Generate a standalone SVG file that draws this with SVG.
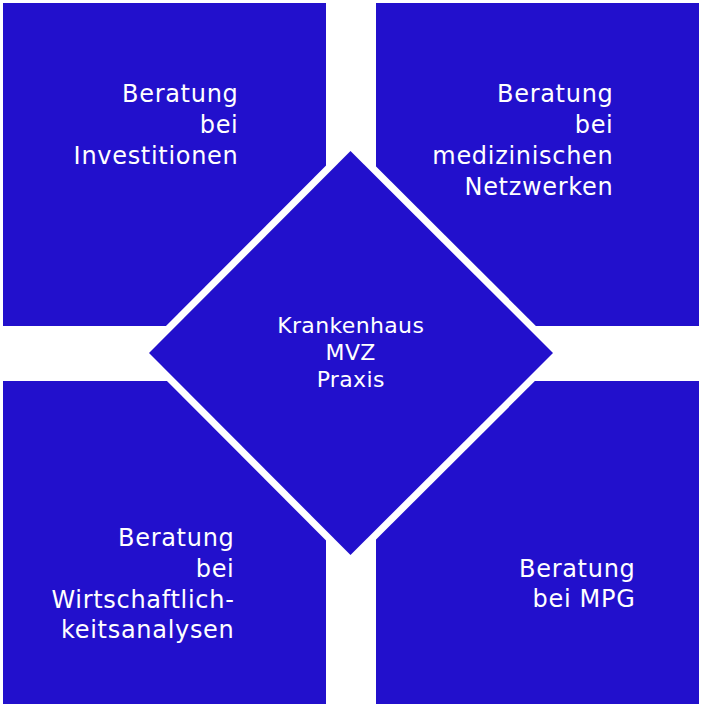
<svg xmlns="http://www.w3.org/2000/svg" width="703" height="708" viewBox="0 0 703 708">
<style>
.box{fill:#2210CC}
.t{fill:#FFFFFF;font-family:"DejaVu Sans",Verdana,sans-serif;font-size:24px;letter-spacing:0.7px;text-anchor:end}
.c{fill:#FFFFFF;font-family:"DejaVu Sans",Verdana,sans-serif;font-size:22px;letter-spacing:0.35px;text-anchor:middle}
</style>
<rect width="703" height="708" fill="#FFFFFF"/>
<g id="investitionen">
<rect class="box" x="3" y="3" width="323" height="323"/>
<text class="t"><tspan x="238.5" y="102">Beratung</tspan><tspan x="238.5" y="133">bei</tspan><tspan x="238.5" y="164">Investitionen</tspan></text>
</g>
<g id="netzwerke">
<rect class="box" x="376" y="3" width="323" height="323"/>
<text class="t"><tspan x="613.5" y="102">Beratung</tspan><tspan x="613.5" y="133">bei</tspan><tspan x="613.5" y="164">medizinischen</tspan><tspan x="613.5" y="195">Netzwerken</tspan></text>
</g>
<g id="wirtschaftlichkeit">
<rect class="box" x="3" y="381" width="323" height="323"/>
<text class="t"><tspan x="234.5" y="546">Beratung</tspan><tspan x="234.5" y="577">bei</tspan><tspan x="234.5" y="608">Wirtschaftlich-</tspan><tspan x="234.5" y="638">keitsanalysen</tspan></text>
</g>
<g id="mpg">
<rect class="box" x="376" y="381" width="323" height="323"/>
<text class="t"><tspan x="635.5" y="577">Beratung</tspan><tspan x="635.5" y="607">bei MPG</tspan></text>
</g>
<g id="zentrum">
<polygon points="350.5,141 563,353 350.5,565 139,353" fill="#FFFFFF"/>
<polygon class="box" points="350.5,151 553,353 350.5,555 149,353"/>
<text class="c"><tspan x="350.7" y="333">Krankenhaus</tspan><tspan x="350.7" y="360">MVZ</tspan><tspan x="350.7" y="387">Praxis</tspan></text>
</g>
<g id="connectors"/>
</svg>
